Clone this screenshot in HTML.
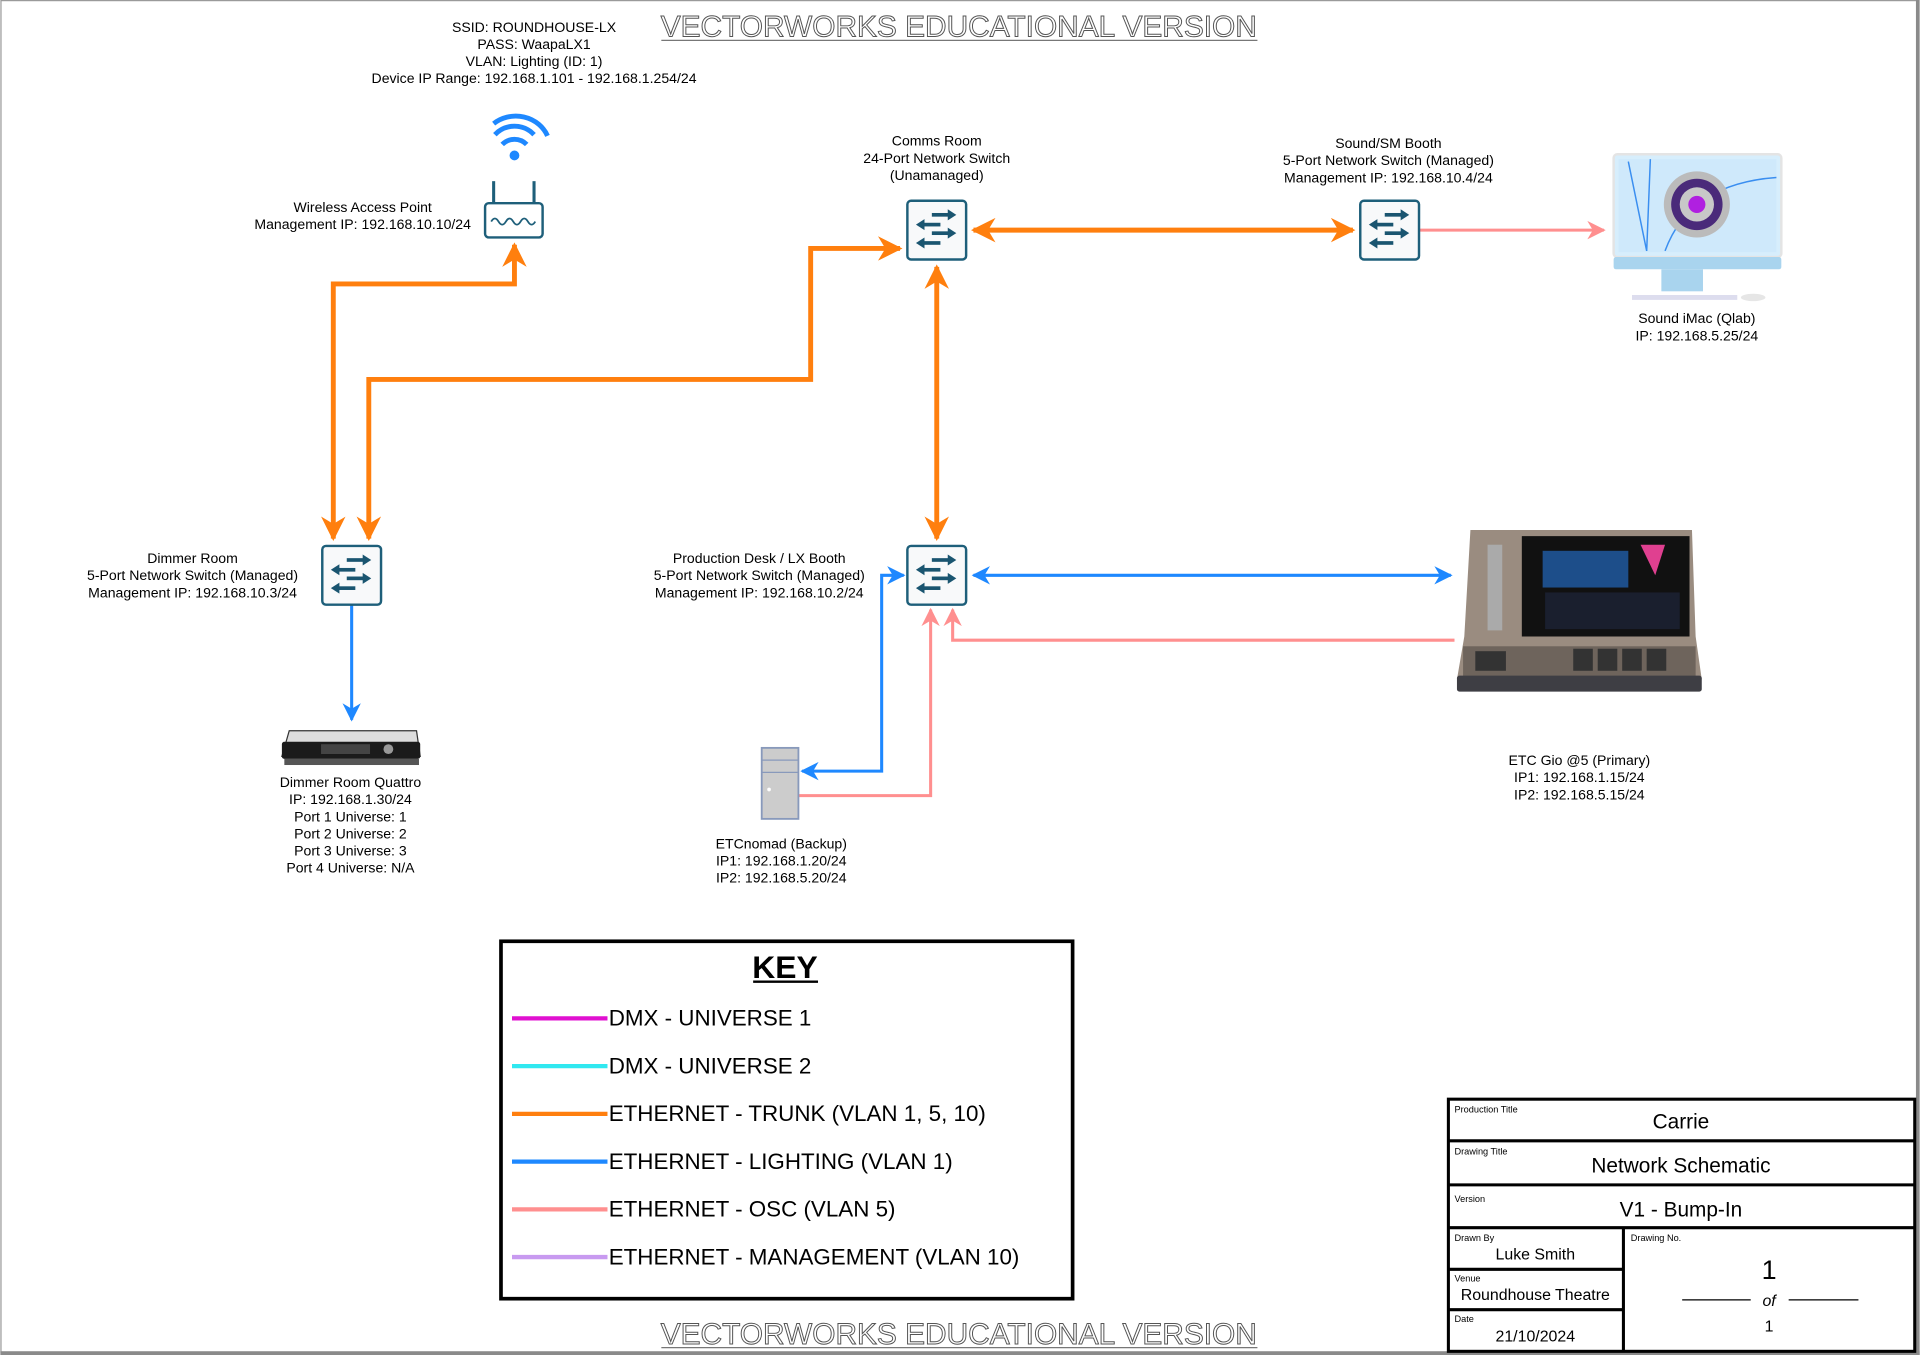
<!DOCTYPE html>
<html><head><meta charset="utf-8"><style>
html,body{margin:0;padding:0;background:#fff;}
svg{display:block;font-family:"Liberation Sans",sans-serif;}
</style></head><body>
<svg width="1920" height="1355" viewBox="0 0 1568 1107" xmlns="http://www.w3.org/2000/svg">
<defs>
<marker id="ao" viewBox="0 0 10 10" refX="9" refY="5" markerWidth="5" markerHeight="5" orient="auto-start-reverse" markerUnits="strokeWidth"><path d="M0,0 L10,5 L0,10 L3,5 z" fill="#ff7f0e"/></marker>
<marker id="ab" viewBox="0 0 10 10" refX="9" refY="5" markerWidth="6" markerHeight="6" orient="auto-start-reverse" markerUnits="strokeWidth"><path d="M0,0 L10,5 L0,10 L3,5 z" fill="#1e88ff"/></marker>
<marker id="ap" viewBox="0 0 10 10" refX="9" refY="5" markerWidth="6" markerHeight="6" orient="auto-start-reverse" markerUnits="strokeWidth"><path d="M0,0 L10,5 L0,10 L3,5 z" fill="#ff8f8f"/></marker>
<g id="sw">
<rect x="-24" y="-24" width="48" height="48" rx="3" fill="#f8f9fa" stroke="#1e5f7a" stroke-width="2"/>
<g fill="#1a5570">
<rect x="-4" y="-14" width="14" height="3"/><path d="M9,-17 L16,-12.5 L9,-8z"/>
<rect x="-11" y="-6" width="14" height="3"/><path d="M-10,-9 L-17,-4.5 L-10,0z"/>
<rect x="-4" y="1" width="14" height="3"/><path d="M9,-2 L16,2.5 L9,7z"/>
<rect x="-11" y="9" width="14" height="3"/><path d="M-10,6 L-17,10.5 L-10,15z"/>
</g></g>
</defs>
<rect width="1568" height="1107" fill="#fff"/>
<rect x="0.5" y="0.5" width="1565" height="1104" fill="none" stroke="#9a9a9a" stroke-width="1"/>
<rect x="1565" y="0" width="3" height="1107" fill="#8a8a8a"/>
<rect x="0" y="1104" width="1568" height="3" fill="#8a8a8a"/>

<g font-size="24" fill="#fff" stroke="#555" stroke-width="0.8" text-anchor="middle">
<text x="783" y="30" textLength="487" lengthAdjust="spacingAndGlyphs">VECTORWORKS EDUCATIONAL VERSION</text>
<text x="783" y="1098" textLength="487" lengthAdjust="spacingAndGlyphs">VECTORWORKS EDUCATIONAL VERSION</text>
</g>
<line x1="540" y1="33" x2="1027" y2="33" stroke="#777" stroke-width="1"/>
<line x1="540" y1="1101" x2="1027" y2="1101" stroke="#777" stroke-width="1"/>

<g fill="none" stroke-width="4" stroke="#ff7f0e">
<line x1="795" y1="188" x2="1105" y2="188" marker-start="url(#ao)" marker-end="url(#ao)"/>
<line x1="765" y1="218" x2="765" y2="440" marker-start="url(#ao)" marker-end="url(#ao)"/>
<polyline points="420,200 420,232 272,232 272,440" marker-start="url(#ao)" marker-end="url(#ao)"/>
<polyline points="735,203 662,203 662,310 301,310 301,440" marker-start="url(#ao)" marker-end="url(#ao)"/>
</g>
<g fill="none" stroke-width="2.5">
<line x1="1159" y1="188" x2="1310" y2="188" stroke="#ff8f8f" marker-end="url(#ap)"/>
<line x1="287" y1="494" x2="287" y2="588" stroke="#1e88ff" marker-end="url(#ab)"/>
<line x1="795" y1="470" x2="1185" y2="470" stroke="#1e88ff" marker-start="url(#ab)" marker-end="url(#ab)"/>
<polyline points="1188,523 778,523 778,498" stroke="#ff8f8f" marker-end="url(#ap)"/>
<polyline points="738,470 720,470 720,630 655,630" stroke="#1e88ff" marker-start="url(#ab)" marker-end="url(#ab)"/>
<polyline points="652,650 760,650 760,498" stroke="#ff8f8f" marker-end="url(#ap)"/>
</g>

<use href="#sw" x="765" y="188"/>
<use href="#sw" x="1135" y="188"/>
<use href="#sw" x="287" y="470"/>
<use href="#sw" x="765" y="470"/>

<g>
<rect x="396" y="166" width="47" height="28" rx="3" fill="#fff" stroke="#1e5f7a" stroke-width="2"/>
<line x1="403" y1="166" x2="403" y2="148" stroke="#1e5f7a" stroke-width="2.5"/>
<line x1="436" y1="166" x2="436" y2="148" stroke="#1e5f7a" stroke-width="2.5"/>
<path d="M401,181 q3,-5 6,0 q3,5 6,0 q3,-5 6,0 q3,5 6,0 q3,-5 6,0 q3,5 6,0" fill="none" stroke="#1e5f7a" stroke-width="1.5"/>
<circle cx="420" cy="127" r="4" fill="#1e88ff"/>
<path d="M410,118 a14,14 0 0 1 20,0" fill="none" stroke="#1e88ff" stroke-width="4"/>
<path d="M404,110 a22,22 0 0 1 32,0" fill="none" stroke="#1e88ff" stroke-width="4"/>
<path d="M403,101 a28,26 0 0 1 44,10" fill="none" stroke="#1e88ff" stroke-width="4"/>
</g>

<g>
<rect x="1318" y="126" width="137" height="84" rx="3" fill="#d7eefc" stroke="#e4e4e4" stroke-width="2"/>
<rect x="1322" y="130" width="129" height="76" fill="#cfe9fb"/>
<path d="M1330,132 L1345,205 M1348,130 L1345,205 M1360,205 Q1380,150 1451,145" fill="none" stroke="#3a8ef0" stroke-width="1.2"/>
<rect x="1318" y="210" width="137" height="10" rx="2" fill="#a9d4ee"/>
<rect x="1357" y="220" width="34" height="18" fill="#a9d4ee"/>
<rect x="1333" y="241" width="86" height="4" fill="#dde"/>
<ellipse cx="1432" cy="243" rx="10" ry="3" fill="#e6e6e6"/>
<circle cx="1386" cy="167" r="27" fill="#bbb"/>
<circle cx="1386" cy="167" r="21" fill="#4a2a7a"/>
<circle cx="1386" cy="167" r="14" fill="#c8c8c8"/>
<circle cx="1386" cy="167" r="7" fill="#b020e0"/>
</g>

<g>
<path d="M1201,433 L1382,433 L1385,520 L1390,555 L1190,555 L1196,520 Z" fill="#9a8c80"/>
<rect x="1243" y="438" width="137" height="82" fill="#111"/>
<rect x="1260" y="450" width="70" height="30" fill="#1d4e8a"/>
<rect x="1262" y="484" width="110" height="30" fill="#1a1f2e"/>
<polygon points="1340,445 1360,445 1352,470" fill="#e04090"/>
<rect x="1215" y="445" width="12" height="70" fill="#aaa"/>
<rect x="1195" y="528" width="190" height="26" fill="#6e645c"/>
<g fill="#333"><rect x="1285" y="530" width="16" height="18"/><rect x="1305" y="530" width="16" height="18"/><rect x="1325" y="530" width="16" height="18"/><rect x="1345" y="530" width="16" height="18"/><rect x="1205" y="532" width="25" height="16"/></g>
<rect x="1190" y="552" width="200" height="13" rx="2" fill="#3e3e44"/>
</g>

<g>
<path d="M236,597 L340,597 L343,618 L230,618 Z" fill="#ddd" stroke="#333" stroke-width="1"/>
<rect x="230" y="606" width="113" height="14" rx="2" fill="#1b1b1b"/>
<rect x="262" y="608" width="40" height="8" fill="#444"/>
<circle cx="317" cy="612" r="4" fill="#999"/>
<rect x="232" y="620" width="110" height="5" fill="#555"/>
</g>

<g>
<rect x="622" y="611" width="30" height="58" fill="#ccc" stroke="#8899bb" stroke-width="1.5"/>
<line x1="622" y1="621" x2="652" y2="621" stroke="#8899bb"/>
<line x1="622" y1="631" x2="652" y2="631" stroke="#8899bb"/>
<circle cx="628" cy="645" r="1.5" fill="#fff"/>
</g>

<g font-size="11.5" fill="#000" text-anchor="middle">
<text x="436" y="26">SSID: ROUNDHOUSE-LX</text>
<text x="436" y="40">PASS: WaapaLX1</text>
<text x="436" y="54">VLAN: Lighting (ID: 1)</text>
<text x="436" y="68">Device IP Range: 192.168.1.101 - 192.168.1.254/24</text>
<text x="296" y="173">Wireless Access Point</text>
<text x="296" y="187">Management IP: 192.168.10.10/24</text>
<text x="765" y="119">Comms Room</text>
<text x="765" y="133">24-Port Network Switch</text>
<text x="765" y="147">(Unamanaged)</text>
<text x="1134" y="121">Sound/SM Booth</text>
<text x="1134" y="135">5-Port Network Switch (Managed)</text>
<text x="1134" y="149">Management IP: 192.168.10.4/24</text>
<text x="1386" y="264">Sound iMac (Qlab)</text>
<text x="1386" y="278">IP: 192.168.5.25/24</text>
<text x="157" y="460">Dimmer Room</text>
<text x="157" y="474">5-Port Network Switch (Managed)</text>
<text x="157" y="488">Management IP: 192.168.10.3/24</text>
<text x="620" y="460">Production Desk / LX Booth</text>
<text x="620" y="474">5-Port Network Switch (Managed)</text>
<text x="620" y="488">Management IP: 192.168.10.2/24</text>
<text x="286" y="643">Dimmer Room Quattro</text>
<text x="286" y="657">IP: 192.168.1.30/24</text>
<text x="286" y="671">Port 1 Universe: 1</text>
<text x="286" y="685">Port 2 Universe: 2</text>
<text x="286" y="699">Port 3 Universe: 3</text>
<text x="286" y="713">Port 4 Universe: N/A</text>
<text x="638" y="693">ETCnomad (Backup)</text>
<text x="638" y="707">IP1: 192.168.1.20/24</text>
<text x="638" y="721">IP2: 192.168.5.20/24</text>
<text x="1290" y="625">ETC Gio @5 (Primary)</text>
<text x="1290" y="639">IP1: 192.168.1.15/24</text>
<text x="1290" y="653">IP2: 192.168.5.15/24</text>
</g>

<rect x="409" y="769" width="467" height="292" fill="#fff" stroke="#000" stroke-width="3"/>
<text x="641" y="799" font-size="26" font-weight="bold" text-anchor="middle">KEY</text>
<line x1="615" y1="802" x2="668" y2="802" stroke="#000" stroke-width="2"/>
<g stroke-width="3.5">
<line x1="418" y1="832" x2="496" y2="832" stroke="#e010d0"/>
<line x1="418" y1="871" x2="496" y2="871" stroke="#30e8f0"/>
<line x1="418" y1="910" x2="496" y2="910" stroke="#ff7f0e"/>
<line x1="418" y1="949" x2="496" y2="949" stroke="#1e88ff"/>
<line x1="418" y1="988" x2="496" y2="988" stroke="#ff8f8f"/>
<line x1="418" y1="1027" x2="496" y2="1027" stroke="#c89af0"/>
</g>
<g font-size="18.3" fill="#000">
<text x="497" y="838">DMX - UNIVERSE 1</text>
<text x="497" y="877">DMX - UNIVERSE 2</text>
<text x="497" y="916">ETHERNET - TRUNK (VLAN 1, 5, 10)</text>
<text x="497" y="955">ETHERNET - LIGHTING (VLAN 1)</text>
<text x="497" y="994">ETHERNET - OSC (VLAN 5)</text>
<text x="497" y="1033">ETHERNET - MANAGEMENT (VLAN 10)</text>
</g>

<g fill="none" stroke="#000" stroke-width="2.5">
<rect x="1183" y="898" width="381" height="206"/>
<line x1="1183" y1="932" x2="1564" y2="932"/>
<line x1="1183" y1="968" x2="1564" y2="968"/>
<line x1="1183" y1="1003" x2="1564" y2="1003"/>
<line x1="1326" y1="1003" x2="1326" y2="1104"/>
<line x1="1183" y1="1037" x2="1326" y2="1037"/>
<line x1="1183" y1="1070" x2="1326" y2="1070"/>
</g>
<g font-size="7.5" fill="#000">
<text x="1188" y="909">Production Title</text>
<text x="1188" y="943">Drawing Title</text>
<text x="1188" y="982">Version</text>
<text x="1188" y="1014">Drawn By</text>
<text x="1188" y="1047">Venue</text>
<text x="1188" y="1080">Date</text>
<text x="1332" y="1014">Drawing No.</text>
</g>
<g fill="#000" text-anchor="middle">
<text x="1373" y="922" font-size="17">Carrie</text>
<text x="1373" y="958" font-size="17">Network Schematic</text>
<text x="1373" y="994" font-size="17">V1 - Bump-In</text>
<text x="1254" y="1029" font-size="13">Luke Smith</text>
<text x="1254" y="1062" font-size="13">Roundhouse Theatre</text>
<text x="1254" y="1096" font-size="13">21/10/2024</text>
<text x="1445" y="1045" font-size="22">1</text>
<text x="1445" y="1067" font-size="13" font-style="italic">of</text>
<text x="1445" y="1088" font-size="13">1</text>
</g>
<line x1="1374" y1="1062" x2="1430" y2="1062" stroke="#000"/>
<line x1="1461" y1="1062" x2="1518" y2="1062" stroke="#000"/>
</svg>
</body></html>
